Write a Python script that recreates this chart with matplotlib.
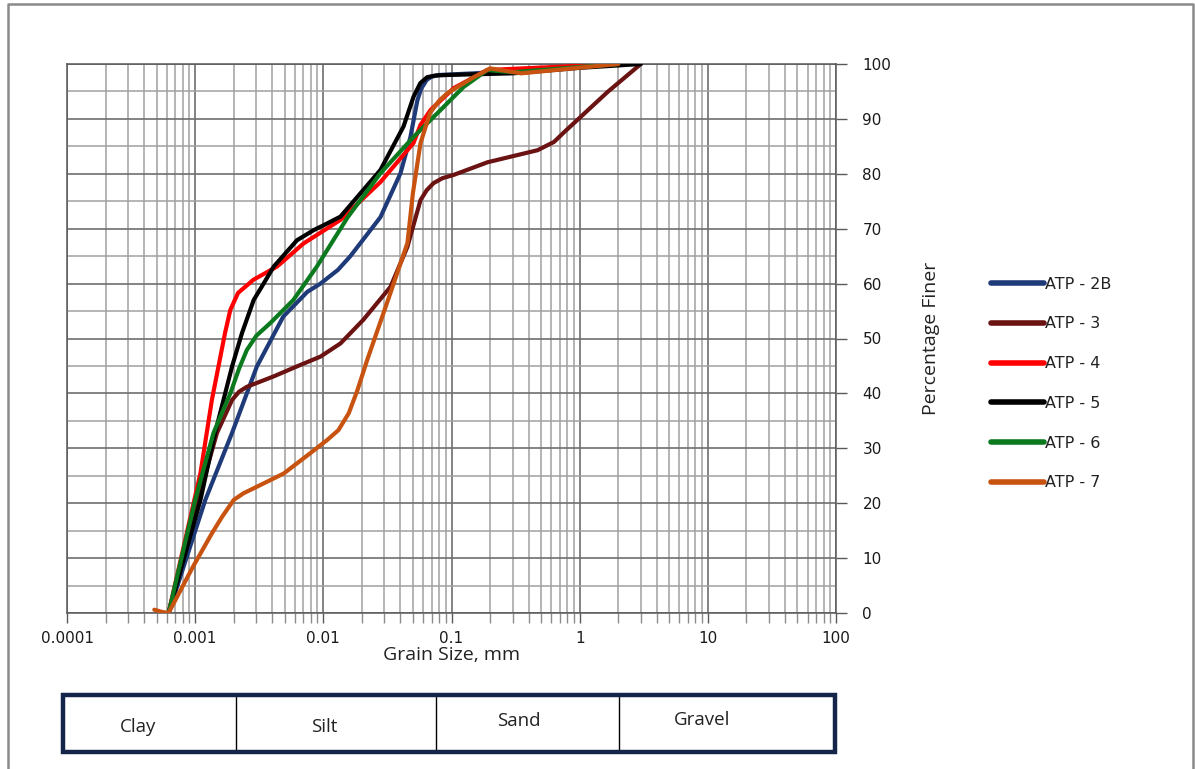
import matplotlib
matplotlib.use("Agg")
import matplotlib.pyplot as plt
from matplotlib.ticker import LogLocator, MultipleLocator, FixedLocator, NullFormatter, FixedFormatter
from matplotlib.lines import Line2D
from matplotlib.patches import Rectangle

# ---------------- data ----------------
series_names = ["ATP - 2B", "ATP - 3", "ATP - 4", "ATP - 5", "ATP - 6", "ATP - 7"]
series_colors = ["#1f3a78", "#6b1212", "#ff0000", "#000000", "#0b7a1f", "#c8520f"]

atp2b_x = [0.00062, 0.0012, 0.00194, 0.00303, 0.00487, 0.0075, 0.0095, 0.013, 0.01625,
           0.0279, 0.04, 0.0478, 0.0542, 0.058, 0.064, 0.07, 0.08, 0.15, 2.0]
atp2b_y = [0, 20.6, 32.8, 44.9, 54, 58.5, 60, 62.5, 65, 72.1, 80.1, 86.7, 93.4, 95.5,
           97.1, 97.7, 98, 98.3, 100]

atp3_x = [0.00062, 0.00105, 0.00148, 0.00194, 0.0022, 0.00253, 0.0041, 0.0062, 0.0095,
          0.0136, 0.0205, 0.0334, 0.0453, 0.0573, 0.064, 0.0724, 0.085, 0.104, 0.191,
          0.47, 0.63, 0.75, 1.0, 1.65, 3.0]
atp3_y = [0, 20.6, 32.8, 38.8, 40.3, 41.2, 43.1, 44.9, 46.7, 49.1, 53.4, 59.4, 66.7,
          75.2, 77, 78.3, 79.2, 79.8, 82.1, 84.3, 85.8, 87.5, 90.2, 94.9, 100]

atp4_x = [0.00062, 0.0011, 0.00135, 0.00171, 0.00188, 0.00216, 0.00285, 0.00435, 0.0070,
          0.0136, 0.0279, 0.0505, 0.0573, 0.0685, 0.104, 0.19, 2.0]
atp4_y = [0, 25.5, 38.8, 51, 55.2, 58.3, 60.7, 63.1, 67.3, 71.6, 78.5, 85.6, 88.9, 91.6,
          95.6, 98.9, 100]

atp5_x = [0.00062, 0.0011, 0.00143, 0.00194, 0.00232, 0.00286, 0.00342, 0.0041, 0.00623,
          0.0085, 0.01, 0.0136, 0.0279, 0.0422, 0.0505, 0.057, 0.0646, 0.075, 0.093, 0.3,
          1.0, 3.0]
atp5_y = [0, 20.6, 32.8, 44.9, 51, 57, 60, 63.1, 67.9, 69.8, 70.6, 72.2, 80.7, 88.6, 94,
          96.5, 97.6, 97.9, 98, 98.3, 99.3, 100]

atp6_x = [0.00062, 0.001, 0.00139, 0.00188, 0.0022, 0.00253, 0.003, 0.00385, 0.00583,
          0.0089, 0.0155, 0.0279, 0.0505, 0.082, 0.124, 0.19, 0.3, 2.0]
atp6_y = [0, 20.6, 32.8, 40, 44.5, 47.9, 50.5, 52.8, 57, 63.1, 72.1, 80.1, 86.7, 91.6,
          95.8, 98.9, 98.5, 100]

atp7_x = [0.00048, 0.00055, 0.00062, 0.00096, 0.00135, 0.00162, 0.002, 0.00238, 0.00303,
          0.0049, 0.0079, 0.0107, 0.0131, 0.0158, 0.0184, 0.022, 0.0334, 0.0453, 0.05,
          0.0573, 0.068, 0.08, 0.093, 0.149, 0.2, 0.35, 2.0]
atp7_y = [0.6, 0.2, 0, 8.4, 14.5, 17.5, 20.6, 21.8, 23, 25.4, 29.1, 31.5, 33.3, 36.4,
          40.5, 46.1, 58.3, 67.4, 76.5, 85.6, 91.1, 93.3, 94.7, 97.6, 99.2, 98.3, 100]

x_ticks = [0.0001, 0.001, 0.01, 0.1, 1, 10, 100]
x_tick_labels = ["0.0001", "0.001", "0.01", "0.1", "1", "10", "100"]
y_ticks = [0, 10, 20, 30, 40, 50, 60, 70, 80, 90, 100]

soil_classes = ["Clay", "Silt", "Sand", "Gravel"]

series_x = [atp2b_x, atp3_x, atp4_x, atp5_x, atp6_x, atp7_x]
series_y = [atp2b_y, atp3_y, atp4_y, atp5_y, atp6_y, atp7_y]

# ---------------- figure ----------------
W, H = 1195, 769
fig = plt.figure(figsize=(W / 100, H / 100), dpi=100)
fig.patch.set_facecolor("white")

def fx(px):
    return px / W

def fy(py):
    return 1 - py / H

# outer border (gray)
fig.add_artist(Line2D([fx(8), fx(8), fx(1193), fx(1193)],
                      [fy(772), fy(4), fy(4), fy(772)],
                      transform=fig.transFigure, color="#8a8a8a", lw=1.8))

ax = fig.add_axes([fx(67), fy(613), fx(836) - fx(67), fy(64) - fy(613)])
ax.set_xscale("log")
ax.set_xlim(0.0001, 100)
ax.set_ylim(0, 100)

lines = []
for name, c, xs, ys in zip(series_names, series_colors, series_x, series_y):
    ln, = ax.plot(xs, ys, color=c, lw=3.0, label=name, solid_capstyle="round",
                  solid_joinstyle="round", zorder=3)
    lines.append(ln)

# ticks
ax.xaxis.set_major_locator(FixedLocator(x_ticks))
ax.xaxis.set_major_formatter(FixedFormatter(x_tick_labels))
ax.xaxis.set_minor_locator(LogLocator(base=10, subs=[2, 3, 4, 5, 6, 7, 8, 9], numticks=20))
ax.xaxis.set_minor_formatter(NullFormatter())
ax.yaxis.set_major_locator(FixedLocator(y_ticks))
ax.yaxis.set_minor_locator(MultipleLocator(5))
ax.yaxis.tick_right()

ax.tick_params(axis="x", which="major", direction="out", length=7, width=1.0,
               color="#595959", labelsize=11, pad=6)
ax.tick_params(axis="x", which="minor", direction="out", length=7, width=1.0,
               color="#8c8c8c")
ax.tick_params(axis="y", which="major", direction="out", length=8, width=1.0,
               color="#595959", labelsize=11, pad=11, left=False, right=True)
ax.tick_params(axis="y", which="minor", length=0, left=False, right=False)

for lab in ax.get_xticklabels() + ax.get_yticklabels():
    lab.set_color("#1a1a1a")

ax.grid(which="major", color="#6e6e6e", lw=1.2, zorder=1)
ax.grid(which="minor", color="#a0a0a0", lw=1.1, zorder=1)
ax.set_axisbelow(True)
for sp in ax.spines.values():
    sp.set_color("#595959")
    sp.set_linewidth(1.1)

ax.set_xlabel("Grain Size, mm", fontsize=14, family="Open Sans", labelpad=0,
              color="#222222")
ax.yaxis.set_label_position("right")
ax.set_ylabel("Percentage Finer", fontsize=14, family="Open Sans", labelpad=22,
              color="#222222")

# legend
leg = fig.legend(handles=lines, loc="center left",
                 bbox_to_anchor=(fx(991), fy(383.5)), frameon=False,
                 fontsize=11.5, handlelength=3.3, handletextpad=0.05,
                 labelspacing=1.55, borderpad=0, borderaxespad=0)
for t in leg.get_texts():
    t.set_color("#222222")
for h in leg.legend_handles:
    h.set_linewidth(4)

# soil classification box
tax = fig.add_axes([fx(63), fy(752), fx(835) - fx(63), fy(695) - fy(752)])
tax.set_xlim(63, 835)
tax.set_ylim(752, 695)
tax.axis("off")
tax.add_patch(Rectangle((63, 695), 772, 57, fill=False, edgecolor="#15254a", lw=3.2,
                        zorder=3, clip_on=False))
dividers = [236, 436, 619]
for d in dividers:
    tax.plot([d, d], [695, 752], color="black", lw=1.0, clip_on=False)
text_pos = [(138, 727), (324, 727), (519, 721), (702, 720)]
for name, (tx, ty) in zip(soil_classes, text_pos):
    tax.text(tx, ty, name, ha="center", va="center", fontsize=13.5, family="Open Sans",
             color="#222222")

fig.savefig("out.png", dpi=100)
